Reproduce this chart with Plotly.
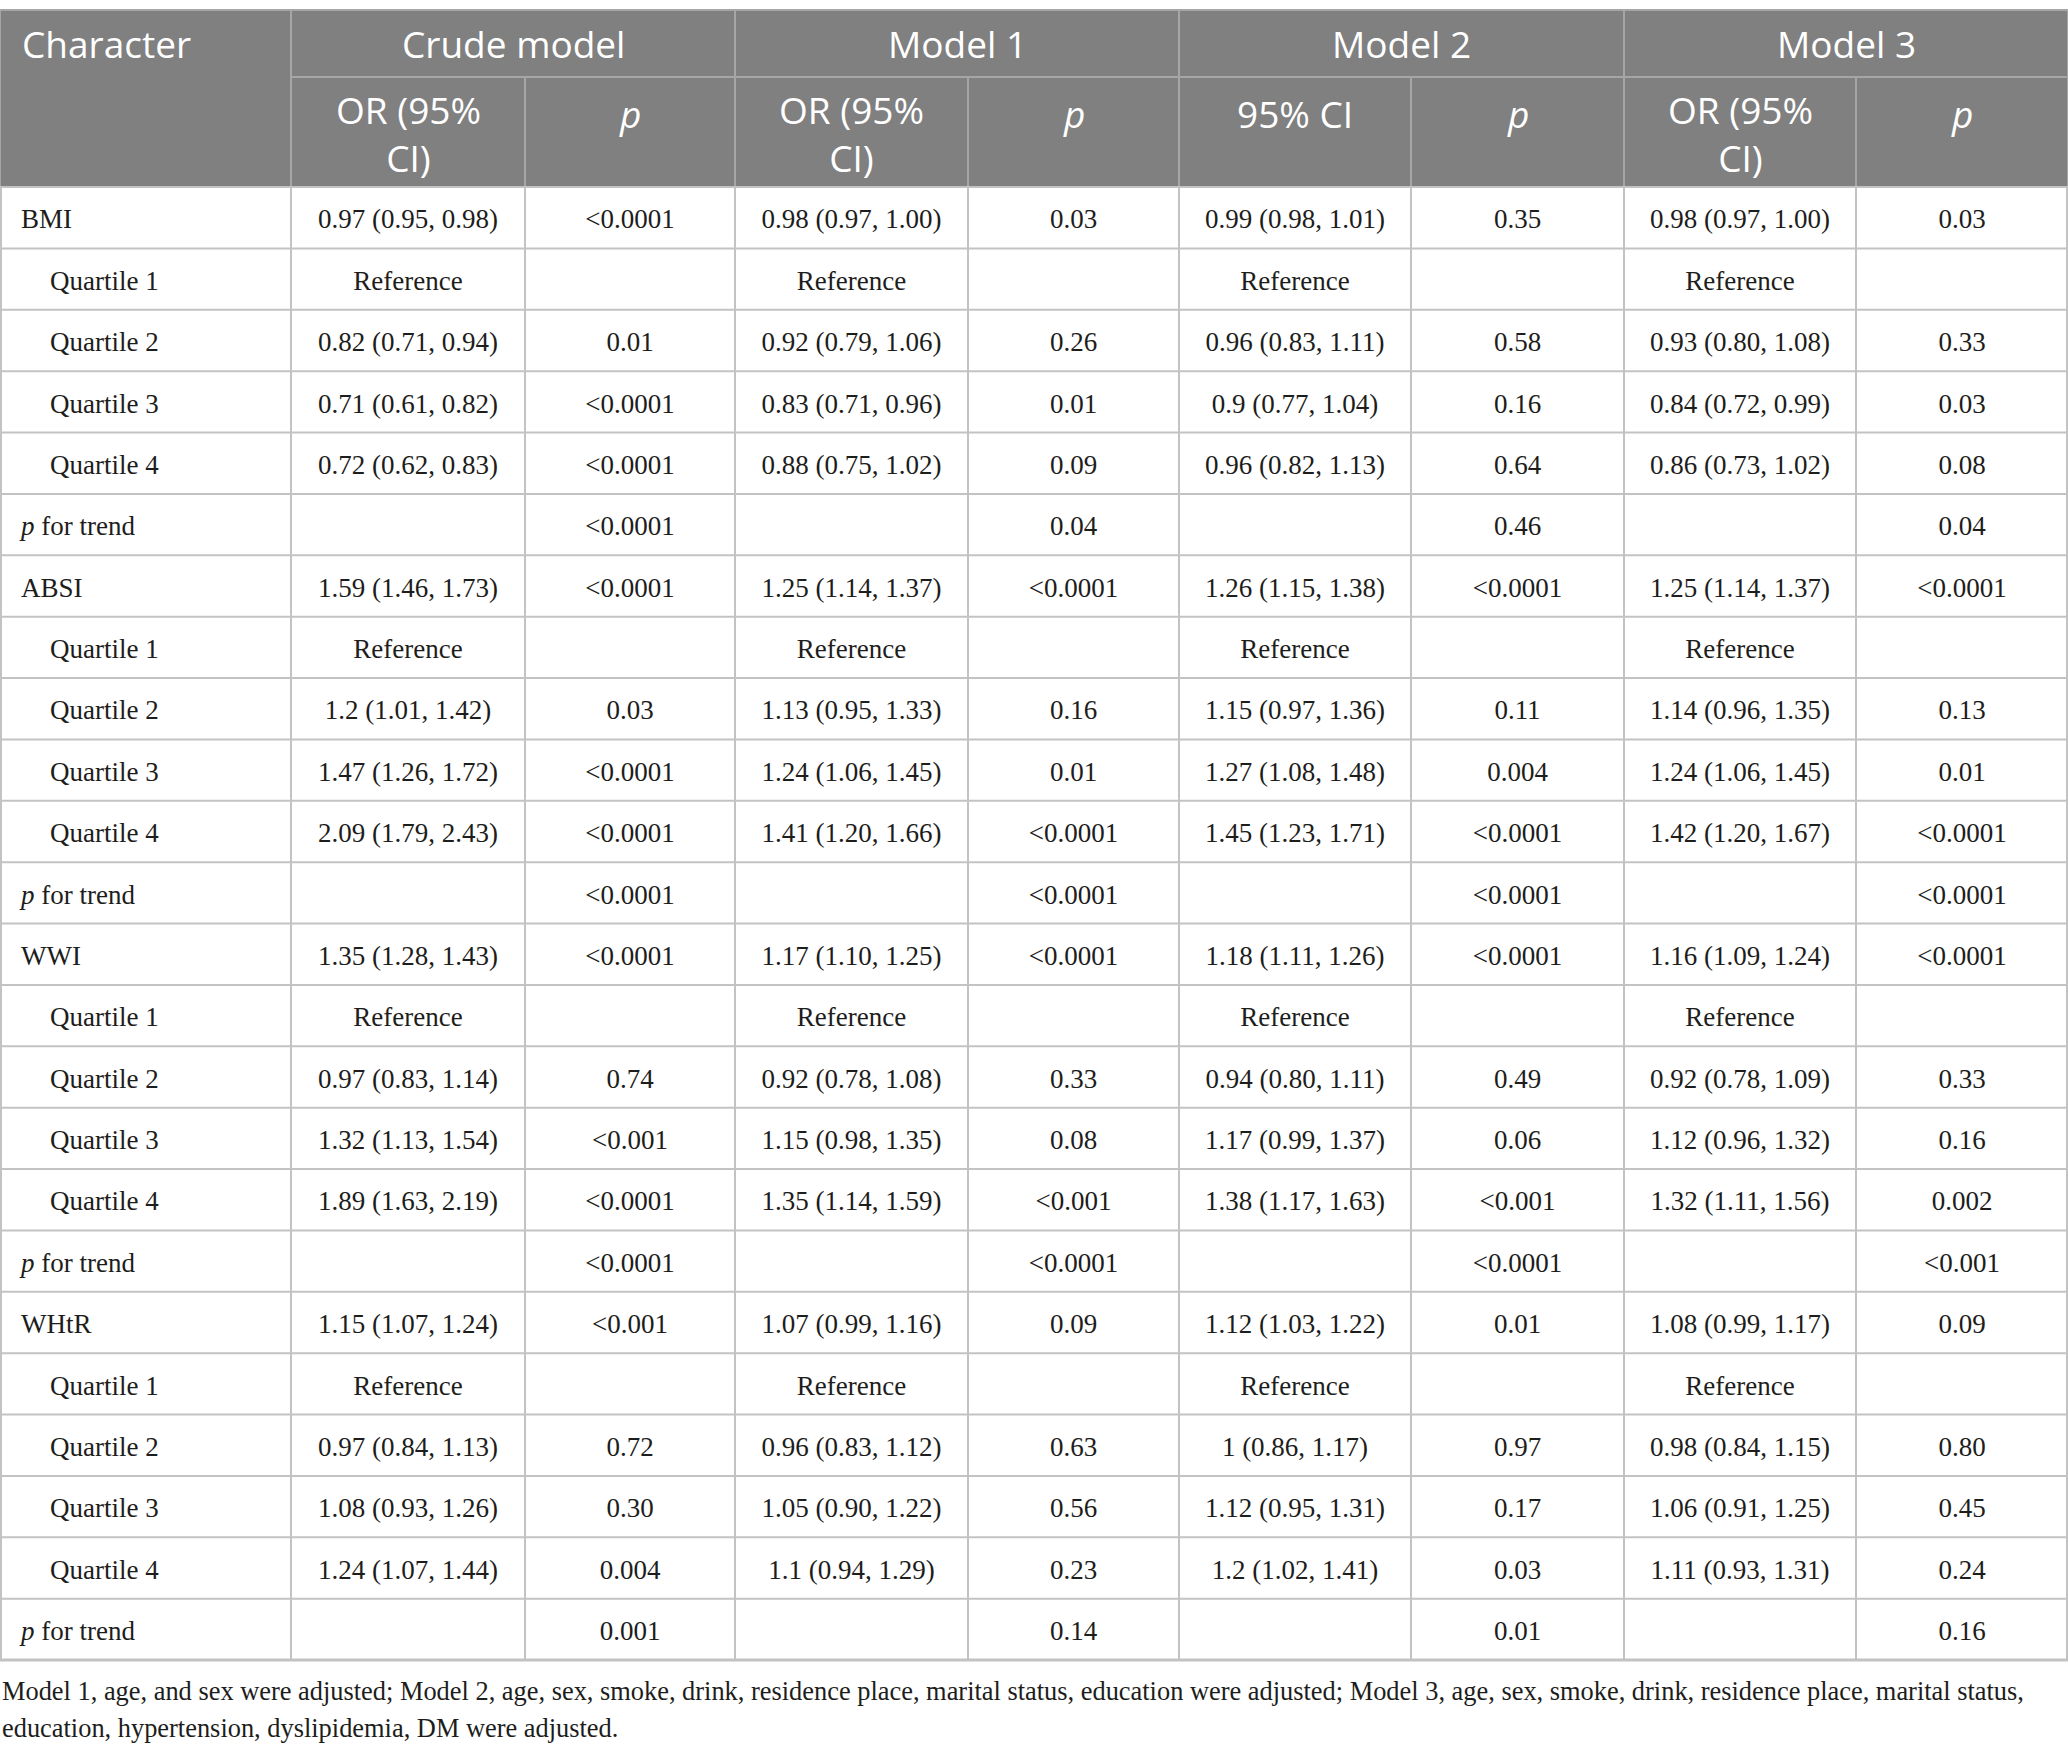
import plotly.graph_objects as go

# table content
characters = ["BMI", "Quartile 1", "Quartile 2", "Quartile 3", "Quartile 4", "<i>p</i> for trend",
              "ABSI", "Quartile 1", "Quartile 2", "Quartile 3", "Quartile 4", "<i>p</i> for trend",
              "WWI", "Quartile 1", "Quartile 2", "Quartile 3", "Quartile 4", "<i>p</i> for trend",
              "WHtR", "Quartile 1", "Quartile 2", "Quartile 3", "Quartile 4", "<i>p</i> for trend"]

crude_or = ["0.97 (0.95, 0.98)", "Reference", "0.82 (0.71, 0.94)", "0.71 (0.61, 0.82)", "0.72 (0.62, 0.83)", "",
            "1.59 (1.46, 1.73)", "Reference", "1.2 (1.01, 1.42)", "1.47 (1.26, 1.72)", "2.09 (1.79, 2.43)", "",
            "1.35 (1.28, 1.43)", "Reference", "0.97 (0.83, 1.14)", "1.32 (1.13, 1.54)", "1.89 (1.63, 2.19)", "",
            "1.15 (1.07, 1.24)", "Reference", "0.97 (0.84, 1.13)", "1.08 (0.93, 1.26)", "1.24 (1.07, 1.44)", ""]
crude_p = ["<0.0001", "", "0.01", "<0.0001", "<0.0001", "<0.0001",
           "<0.0001", "", "0.03", "<0.0001", "<0.0001", "<0.0001",
           "<0.0001", "", "0.74", "<0.001", "<0.0001", "<0.0001",
           "<0.001", "", "0.72", "0.30", "0.004", "0.001"]

m1_or = ["0.98 (0.97, 1.00)", "Reference", "0.92 (0.79, 1.06)", "0.83 (0.71, 0.96)", "0.88 (0.75, 1.02)", "",
         "1.25 (1.14, 1.37)", "Reference", "1.13 (0.95, 1.33)", "1.24 (1.06, 1.45)", "1.41 (1.20, 1.66)", "",
         "1.17 (1.10, 1.25)", "Reference", "0.92 (0.78, 1.08)", "1.15 (0.98, 1.35)", "1.35 (1.14, 1.59)", "",
         "1.07 (0.99, 1.16)", "Reference", "0.96 (0.83, 1.12)", "1.05 (0.90, 1.22)", "1.1 (0.94, 1.29)", ""]
m1_p = ["0.03", "", "0.26", "0.01", "0.09", "0.04",
        "<0.0001", "", "0.16", "0.01", "<0.0001", "<0.0001",
        "<0.0001", "", "0.33", "0.08", "<0.001", "<0.0001",
        "0.09", "", "0.63", "0.56", "0.23", "0.14"]

m2_or = ["0.99 (0.98, 1.01)", "Reference", "0.96 (0.83, 1.11)", "0.9 (0.77, 1.04)", "0.96 (0.82, 1.13)", "",
         "1.26 (1.15, 1.38)", "Reference", "1.15 (0.97, 1.36)", "1.27 (1.08, 1.48)", "1.45 (1.23, 1.71)", "",
         "1.18 (1.11, 1.26)", "Reference", "0.94 (0.80, 1.11)", "1.17 (0.99, 1.37)", "1.38 (1.17, 1.63)", "",
         "1.12 (1.03, 1.22)", "Reference", "1 (0.86, 1.17)", "1.12 (0.95, 1.31)", "1.2 (1.02, 1.41)", ""]
m2_p = ["0.35", "", "0.58", "0.16", "0.64", "0.46",
        "<0.0001", "", "0.11", "0.004", "<0.0001", "<0.0001",
        "<0.0001", "", "0.49", "0.06", "<0.001", "<0.0001",
        "0.01", "", "0.97", "0.17", "0.03", "0.01"]

m3_or = ["0.98 (0.97, 1.00)", "Reference", "0.93 (0.80, 1.08)", "0.84 (0.72, 0.99)", "0.86 (0.73, 1.02)", "",
         "1.25 (1.14, 1.37)", "Reference", "1.14 (0.96, 1.35)", "1.24 (1.06, 1.45)", "1.42 (1.20, 1.67)", "",
         "1.16 (1.09, 1.24)", "Reference", "0.92 (0.78, 1.09)", "1.12 (0.96, 1.32)", "1.32 (1.11, 1.56)", "",
         "1.08 (0.99, 1.17)", "Reference", "0.98 (0.84, 1.15)", "1.06 (0.91, 1.25)", "1.11 (0.93, 1.31)", ""]
m3_p = ["0.03", "", "0.33", "0.03", "0.08", "0.04",
        "<0.0001", "", "0.13", "0.01", "<0.0001", "<0.0001",
        "<0.0001", "", "0.33", "0.16", "0.002", "<0.001",
        "0.09", "", "0.80", "0.45", "0.24", "0.16"]

model_names = ["Crude model", "Model 1", "Model 2", "Model 3"]
sub_headers = ["OR (95%<br>CI)", "<i>p</i>", "OR (95%<br>CI)", "<i>p</i>",
               "95% CI", "<i>p</i>", "OR (95%<br>CI)", "<i>p</i>"]

footnote = ["Model 1, age, and sex were adjusted; Model 2, age, sex, smoke, drink, residence place, marital status, "
            "education were adjusted; Model 3, age, sex, smoke, drink, residence place, marital status,",
            "education, hypertension, dyslipidemia, DM were adjusted."]

# layout (pixel units on the hidden axes)
W, H = 2068, 1754
edges = [0, 291, 525, 735, 968, 1179, 1411, 1624, 1856, 2068]
top, h1, h2 = 10, 77, 187
bottom = 1660
row_h = (bottom - h2) / len(characters)
row_y = [h2 + row_h * (i + 0.5) + 4 for i in range(len(characters))]

head_bg = "#7f807f"
head_line = "#a6a6a6"
body_line = "#c3c3c3"
txt = "#1d1d1b"
serif = "Liberation Serif"
sans = "Open Sans"
head_size = 37
body_size = 27

fig = go.Figure()

# header background
fig.add_shape(type="rect", x0=0, x1=W, y0=top, y1=h2, fillcolor=head_bg,
              line=dict(color=head_line, width=2), layer="below")

# header lines
fig.add_shape(type="line", x0=edges[1], x1=W, y0=h1, y1=h1, line=dict(color=head_line, width=2))
for i, x in enumerate(edges[1:-1], start=1):
    y0 = top if i % 2 == 1 else h1
    fig.add_shape(type="line", x0=x, x1=x, y0=y0, y1=h2, line=dict(color=head_line, width=2))

# body grid
for i in range(len(characters) + 1):
    y = h2 + row_h * i
    fig.add_shape(type="line", x0=0, x1=W, y0=y, y1=y,
                  line=dict(color=body_line, width=2 if i < len(characters) else 3))
for x in edges:
    xx = min(max(x, 1), W - 1)
    fig.add_shape(type="line", x0=xx, x1=xx, y0=h2, y1=bottom, line=dict(color=body_line, width=2))

# header texts
fig.add_annotation(x=20, y=(top + h1) / 2, text="Character", xanchor="left", yanchor="middle",
                   showarrow=False, font=dict(family=sans, size=head_size, color="white"))
for k, name in enumerate(model_names):
    cx = (edges[1 + 2 * k] + edges[3 + 2 * k]) / 2
    fig.add_annotation(x=cx, y=(top + h1) / 2, text=name, showarrow=False,
                       font=dict(family=sans, size=head_size, color="white"))
for k, lab in enumerate(sub_headers):
    cx = (edges[1 + k] + edges[2 + k]) / 2
    yy = 133 if "<br>" in lab else 113
    fig.add_annotation(x=cx, y=yy, text=lab, showarrow=False,
                       font=dict(family=sans, size=head_size, color="white"))

# body texts
label_x = [50 if c.startswith("Quartile") else 21 for c in characters]
fig.add_trace(go.Scatter(x=label_x, y=row_y, text=characters, mode="text",
                         textposition="middle right",
                         textfont=dict(family=serif, size=body_size, color=txt),
                         hoverinfo="skip", showlegend=False))
for k, col in enumerate([crude_or, crude_p, m1_or, m1_p, m2_or, m2_p, m3_or, m3_p]):
    cx = (edges[1 + k] + edges[2 + k]) / 2
    fig.add_trace(go.Scatter(x=[cx] * len(col), y=row_y, text=col, mode="text",
                             textposition="middle center",
                             textfont=dict(family=serif, size=body_size, color=txt),
                             hoverinfo="skip", showlegend=False))

# footnote
for j, line in enumerate(footnote):
    fig.add_annotation(x=0, y=1691 + 37 * j, text=line, xanchor="left", yanchor="middle",
                       showarrow=False, font=dict(family=serif, size=26.4, color=txt))

fig.update_xaxes(range=[0, W], visible=False, fixedrange=True)
fig.update_yaxes(range=[H, 0], visible=False, fixedrange=True)
fig.update_layout(width=W, height=H, margin=dict(l=0, r=0, t=0, b=0),
                  plot_bgcolor="white", paper_bgcolor="white")

fig.write_html("out.html", config={"displayModeBar": False},
               post_script="document.body.style.margin='0';document.body.style.overflow='hidden';")
